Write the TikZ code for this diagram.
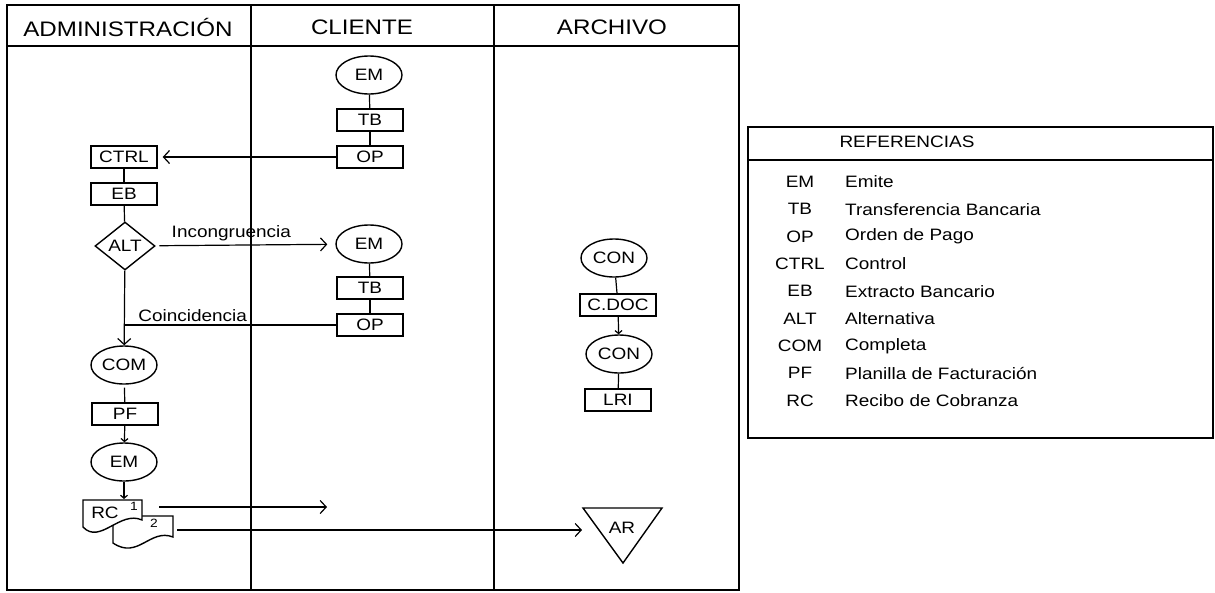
\documentclass[tikz,border=0pt]{standalone}
\usepackage{fontspec}
\setmainfont{Liberation Sans}[FakeStretch=1.15]
\usetikzlibrary{shapes.geometric,arrows.meta}
\begin{document}
\begin{tikzpicture}[x=1pt,y=-1pt,
 every node/.style={font=\fontsize{16.5}{19}\selectfont, inner sep=0pt},
 em/.style={draw, ellipse, minimum width=66pt, minimum height=38pt, line width=1.4pt},
 box/.style={draw, rectangle, minimum width=66pt, minimum height=22pt, line width=1.4pt},
 alt/.style={draw, diamond, minimum width=60pt, minimum height=48pt, line width=1.4pt},
 frame/.style={line width=2.5pt},
 link/.style={line width=1.2pt},
 big/.style={link, -{Straight Barb[length=6pt,width=13pt]}},
 small/.style={link, -{Straight Barb[length=3pt,width=7pt]}},
 hdr/.style={font=\fontsize{21}{25}\selectfont},
 tiny/.style={font=\fontsize{12}{14}\selectfont},
]
\useasboundingbox (0,0) rectangle (1215,592);
\fill[white] (0,0) rectangle (1215,592);

% swimlane frame
\draw[frame] (7,5) rectangle (739,590);
\draw[frame] (7,46) -- (739,46);
\draw[frame] (251,5) -- (251,590);
\draw[frame] (494,5) -- (494,590);
\node[hdr] (h1) at (128,27) {ADMINISTRACIÓN};
\node[hdr] (h2) at (362,27) {CLIENTE};
\node[hdr] (h3) at (612,27) {ARCHIVO};

% CLIENTE column
\node[em]  (em1) at (369,75) {EM};
\node[box] (tb1) at (370,120) {TB};
\node[box] (op1) at (370,157) {OP};
\node[em]  (em2) at (369,244) {EM};
\node[box] (tb2) at (370,288) {TB};
\node[box] (op2) at (370,325) {OP};

% ADMINISTRACION column
\node[box] (ctrl) at (124,157) {CTRL};
\node[box] (eb) at (124,194) {EB};
\node[alt] (alt) at (125,246) {ALT};
\node[em]  (com) at (124,365) {COM};
\node[box] (pf) at (125,414) {PF};
\node[em]  (em3) at (124,462) {EM};

% RC documents
\draw[line width=1.4pt, fill=white] (113,516) -- (173,516) -- (173,537)
  .. controls (150,528) and (138,560) .. (113,543) -- cycle;
\draw[line width=1.4pt, fill=white] (83,500) -- (142,500) -- (142,520)
  .. controls (120,510) and (100,545) .. (83,527) -- cycle;
\node (rc) at (105,513) {RC};
\node[tiny] (rc1) at (134,506) {1};
\node[tiny] (rc2) at (154,523) {2};
\coordinate (rcTop) at (124,499);
\coordinate (rcA) at (159,507);
\coordinate (rcB) at (177,530);
\coordinate (clA) at (327,507);

% ARCHIVO column
\node[em]  (con1) at (614,258) {CON};
\node[box, minimum width=76pt] (cdoc) at (618,305) {C.DOC};
\node[em]  (con2) at (619,354) {CON};
\node[box] (lri) at (618,400) {LRI};
\draw[line width=1.4pt] (583,508) -- (662,508) -- (623,563) -- cycle;
\node (ar) at (622,528) {AR};
\coordinate (arin) at (582,530);

% connectors
\draw[link] (em1) -- (tb1);
\draw[link] (tb1) -- (op1);
\draw[big, shorten >=5pt] (op1) -- (ctrl);
\draw[link] (ctrl) -- (eb);
\draw[link] (eb) -- (alt);
\draw[big, shorten <=4pt, shorten >=8pt] (alt) -- node[above=3pt, xshift=-14pt] (inc) {Incongruencia} (em2);
\draw[link] (em2) -- (tb2);
\draw[link] (tb2) -- (op2);
\draw[big] (alt) -- (com);
\draw[link] (op2.west) -- node[above=3pt, xshift=-38pt] (coi) {Coincidencia} (op2.west -| alt.south);
\draw[link, shorten <=3pt] (com) -- (pf);
\draw[small] (pf) -- (em3);
\draw[small] (em3) -- (rcTop);
\draw[big] (rcA) -- (clA);
\draw[big] (rcB) -- (arin);
\draw[link] (con1) -- (cdoc);
\draw[small] (cdoc) -- (con2);
\draw[link] (con2) -- (lri);

% legend
\draw[frame] (748,127) rectangle (1213,438);
\draw[frame] (748,160) -- (1213,160);
\node (ref) at (907,142) {REFERENCIAS};
\foreach \a/\d [count=\i] in {EM/Emite, TB/Transferencia Bancaria, OP/Orden de Pago,
  CTRL/Control, EB/Extracto Bancario, ALT/Alternativa, COM/Completa,
  PF/Planilla de Facturación, RC/Recibo de Cobranza}{
  \node (ab\i) at (800,{182+27.3*(\i-1)}) {\a};
  \node[anchor=west] (de\i) at (845,{182+27.3*(\i-1)}) {\d};
}
\end{tikzpicture}
\end{document}
